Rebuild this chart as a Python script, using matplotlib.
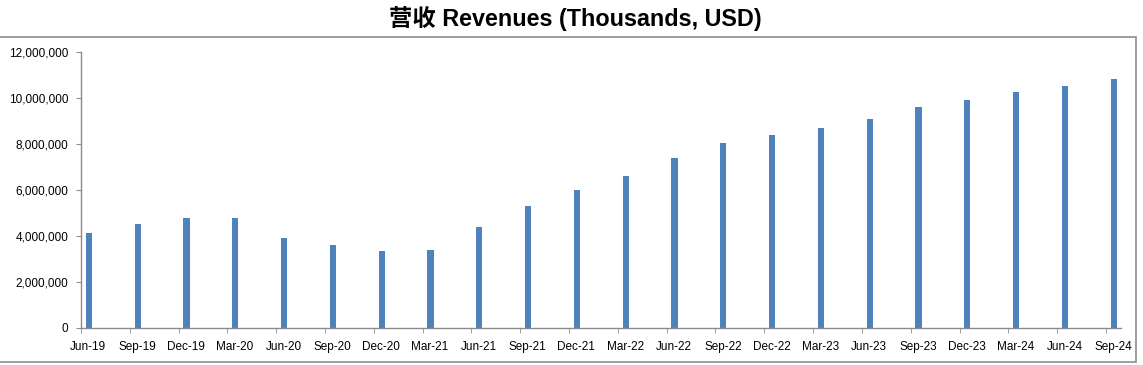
import matplotlib.pyplot as plt
from matplotlib.patches import Rectangle
from matplotlib.ticker import FuncFormatter
import numpy as np

quarters = ["Jun-19", "Sep-19", "Dec-19", "Mar-20", "Jun-20", "Sep-20", "Dec-20", "Mar-21",
            "Jun-21", "Sep-21", "Dec-21", "Mar-22", "Jun-22", "Sep-22", "Dec-22", "Mar-23",
            "Jun-23", "Sep-23", "Dec-23", "Mar-24", "Jun-24", "Sep-24"]
revenues = [4130000, 4520000, 4780000, 4780000, 3910000, 3610000, 3360000, 3390000,
            4400000, 5300000, 6000000, 6610000, 7390000, 8040000, 8390000, 8700000,
            9090000, 9620000, 9910000, 10260000, 10520000, 10830000]

bar_color = "#4F81BD"
grey = "#8C8C8C"

fig = plt.figure(figsize=(11.43, 3.65), dpi=100)
ax = fig.add_axes([0.0709, 0.1014, 0.9099, 0.7561])

x = np.arange(len(quarters))
ax.bar(x + 0.16, revenues, width=0.125, color=bar_color)

ax.set_xlim(0, len(quarters) - 1 + 0.31)
ax.set_ylim(0, 12000000)
ax.set_yticks(np.arange(0, 12000001, 2000000))
ax.yaxis.set_major_formatter(FuncFormatter(lambda v, p: f"{int(v):,}"))

# tick marks at the dates, labels a bit to the right (Excel date axis look)
ax.set_xticks(x, minor=True)
ax.set_xticks(x + 0.15)
ax.set_xticklabels(quarters)
ax.tick_params(axis="x", which="major", length=0, pad=9.4, labelsize=8.5)
ax.tick_params(axis="x", which="minor", length=3.6, color=grey, direction="out")
ax.tick_params(axis="y", length=3.6, color=grey, pad=5.5, labelsize=8.5)
for lab in ax.get_xticklabels() + ax.get_yticklabels():
    lab.set_family(["Liberation Sans", "DejaVu Sans"])

for s in ["top", "right"]:
    ax.spines[s].set_visible(False)
for s in ["left", "bottom"]:
    ax.spines[s].set_color(grey)
    ax.spines[s].set_linewidth(1)

# outer chart frame
fig.patches.append(Rectangle((-0.01, 0.0082), 1.0043, 0.8904, transform=fig.transFigure,
                             fill=False, edgecolor=grey, linewidth=1.2))

fig.text(0.503, 0.948, "营收 Revenues (Thousands, USD)", ha="center", va="center",
         fontsize=16.8, fontweight="bold", family=["Liberation Sans", "Noto Sans CJK SC"])

fig.savefig("out.png", dpi=100)
